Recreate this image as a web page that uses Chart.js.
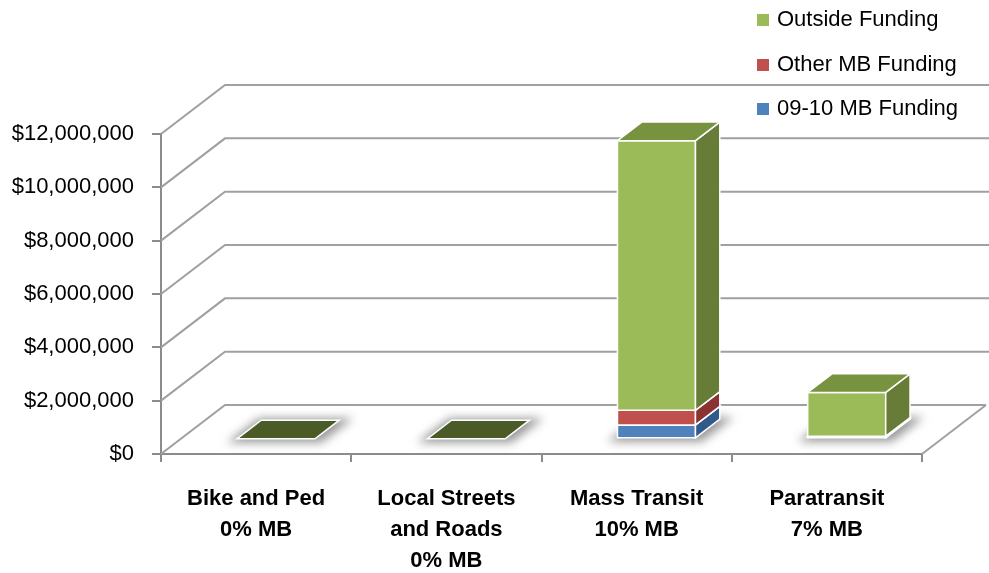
<!DOCTYPE html>
<html lang="en">
<head>
<meta charset="utf-8" />
<title>Funding by mode</title>
<script src="https://cdn.jsdelivr.net/npm/chart.js@4.4.1/dist/chart.umd.min.js"></script>
<style>
    html, body { margin: 0; padding: 0; background: #fff; }
    #wrap { width: 989px; height: 573px; }
</style>
</head>
<body>
<div id="wrap"><canvas id="fundChart" width="989" height="573"></canvas></div>

<script>
    // categories and funding values (dollars)
    var categories = [['Bike and Ped', '0% MB'], ['Local Streets', 'and Roads', '0% MB'], ['Mass Transit', '10% MB'], ['Paratransit', '7% MB']];
    var mb0910 = [0, 0, 520000, 60000];
    var otherMb = [0, 0, 550000, 40000];
    var outside = [0, 0, 10110000, 1640000];
    var yTicks = [0, 2000000, 4000000, 6000000, 8000000, 10000000, 12000000];
    var seriesNames = ['09-10 MB Funding', 'Other MB Funding', 'Outside Funding'];

    // colori delle facce: frontale, laterale, superiore
    var faces = [
        { front: '#4f81bd', side: '#30598c', top: '#3f6ea8' },
        { front: '#c0504d', side: '#8b3331', top: '#a23f3c' },
        { front: '#9bbb59', side: '#677d37', top: '#78933f' }
    ];
    var emptyTop = '#4b5b28';

    // profondita' del pavimento e posizione delle barre in profondita'
    var DX = 64, DY = 49;
    var Z0 = 0.31, ZB = 0.38;
    var FONT = "'Liberation Sans', Arial, sans-serif";

    function poly(ctx, pts, fill) {
        ctx.beginPath();
        ctx.moveTo(pts[0][0], pts[0][1]);
        for (var k = 1; k < pts.length; k++) ctx.lineTo(pts[k][0], pts[k][1]);
        ctx.closePath();
        ctx.fillStyle = fill;
        ctx.fill();
        ctx.stroke();
    }

    const box3d = {
        id: 'box3d',
        beforeDatasetsDraw(chart) {
            const ctx = chart.ctx, a = chart.chartArea, ys = chart.scales.y;
            const fx = DX * Z0, fy = DY * Z0, bx = DX * ZB, by = DY * ZB;
            ctx.save();

            // pareti: griglia laterale e di fondo
            ctx.strokeStyle = '#a0a0a0';
            ctx.lineWidth = 2;
            yTicks.forEach(function (v) {
                const y = ys.getPixelForValue(v);
                ctx.beginPath();
                ctx.moveTo(a.left, y);
                ctx.lineTo(a.left + DX, y - DY);
                ctx.lineTo(v === 0 ? a.right + DX : chart.width, y - DY);
                ctx.stroke();
            });
            ctx.beginPath();
            ctx.moveTo(a.right, a.bottom);
            ctx.lineTo(a.right + DX, a.bottom - DY);
            ctx.stroke();

            const metas = [0, 1, 2].map(function (d) { return chart.getDatasetMeta(d); });

            // ombre sotto le barre
            ctx.filter = 'blur(5px)';
            ctx.fillStyle = 'rgba(70,70,70,0.55)';
            categories.forEach(function (c, i) {
                const el = metas[0].data[i];
                const x0 = el.x - el.width / 2 + fx, x1 = el.x + el.width / 2 + fx, yb = el.base - fy;
                ctx.beginPath();
                ctx.moveTo(x0 - 10, yb + 4);
                ctx.lineTo(x1 + 6, yb + 4);
                ctx.lineTo(x1 + bx + 14, yb - by - 2);
                ctx.lineTo(x0 + bx - 2, yb - by - 2);
                ctx.closePath();
                ctx.fill();
            });
            ctx.filter = 'none';

            // barre a parallelepipedo
            ctx.strokeStyle = '#ffffff';
            ctx.lineWidth = 1.5;
            categories.forEach(function (c, i) {
                let total = 0;
                metas.forEach(function (m) { total += m.controller.getDataset().data[i]; });
                metas.forEach(function (m, d) {
                    const el = m.data[i];
                    const val = m.controller.getDataset().data[i];
                    const x0 = el.x - el.width / 2 + fx, x1 = el.x + el.width / 2 + fx;
                    const yt = el.y - fy, yb = el.base - fy;
                    if (total === 0) {
                        if (d === 0) poly(ctx, [[x0, yb], [x0 + bx, yb - by], [x1 + bx, yb - by], [x1, yb]], emptyTop);
                        return;
                    }
                    if (val === 0) return;
                    poly(ctx, [[x0, yt], [x1, yt], [x1, yb], [x0, yb]], faces[d].front);
                    poly(ctx, [[x1, yb], [x1 + bx, yb - by], [x1 + bx, yt - by], [x1, yt]], faces[d].side);
                    poly(ctx, [[x0, yt], [x0 + bx, yt - by], [x1 + bx, yt - by], [x1, yt]], faces[d].top);
                });
            });
            ctx.restore();
            return false;
        },
        afterDraw(chart) {
            // legenda verticale in alto a destra
            const ctx = chart.ctx;
            ctx.save();
            ctx.font = '22px ' + FONT;
            ctx.textBaseline = 'middle';
            const rows = [20, 65, 109];
            for (let d = 2, r = 0; d >= 0; d--, r++) {
                ctx.fillStyle = faces[d].front;
                ctx.fillRect(757, rows[r] - 6, 12, 12);
                ctx.fillStyle = '#000';
                ctx.fillText(chart.data.datasets[d].label, 777, rows[r]);
            }
            ctx.restore();
        }
    };

    const ctx = document.getElementById('fundChart');

    const fundChart = new Chart(ctx, {
        type: 'bar',
        data: {
            labels: categories,
            datasets: [
                { label: seriesNames[0], data: mb0910, backgroundColor: faces[0].front },
                { label: seriesNames[1], data: otherMb, backgroundColor: faces[1].front },
                { label: seriesNames[2], data: outside, backgroundColor: faces[2].front }
            ]
        },
        options: {
            responsive: false,
            animation: false,
            devicePixelRatio: 1,
            layout: { padding: { top: 134, right: 67, left: 0, bottom: 0 } },
            datasets: { bar: { barPercentage: 0.41, categoryPercentage: 1 } },
            plugins: { legend: { display: false }, tooltip: { enabled: false } },
            scales: {
                x: {
                    stacked: true,
                    grid: { offset: true, drawOnChartArea: false, color: '#8c8c8c', lineWidth: 2, tickLength: 8 },
                    border: { color: '#8c8c8c', width: 2 },
                    ticks: { color: '#000', padding: 21, maxRotation: 0, autoSkip: false,
                             font: { family: FONT, size: 22, weight: 'bold', lineHeight: 1.41 } },
                    afterFit: function (s) { s.height = 119; }
                },
                y: {
                    stacked: true,
                    min: 0,
                    max: 12000000,
                    grid: { drawOnChartArea: false, color: '#8c8c8c', lineWidth: 2, tickLength: 9 },
                    border: { color: '#8c8c8c', width: 2 },
                    ticks: {
                        stepSize: 2000000, color: '#000', padding: 18,
                        font: { family: FONT, size: 22 },
                        callback: function (v) { return '$' + v.toLocaleString('en-US'); }
                    },
                    afterFit: function (s) { s.width = 161; }
                }
            }
        },
        plugins: [box3d]
    });
</script>
</body>
</html>
